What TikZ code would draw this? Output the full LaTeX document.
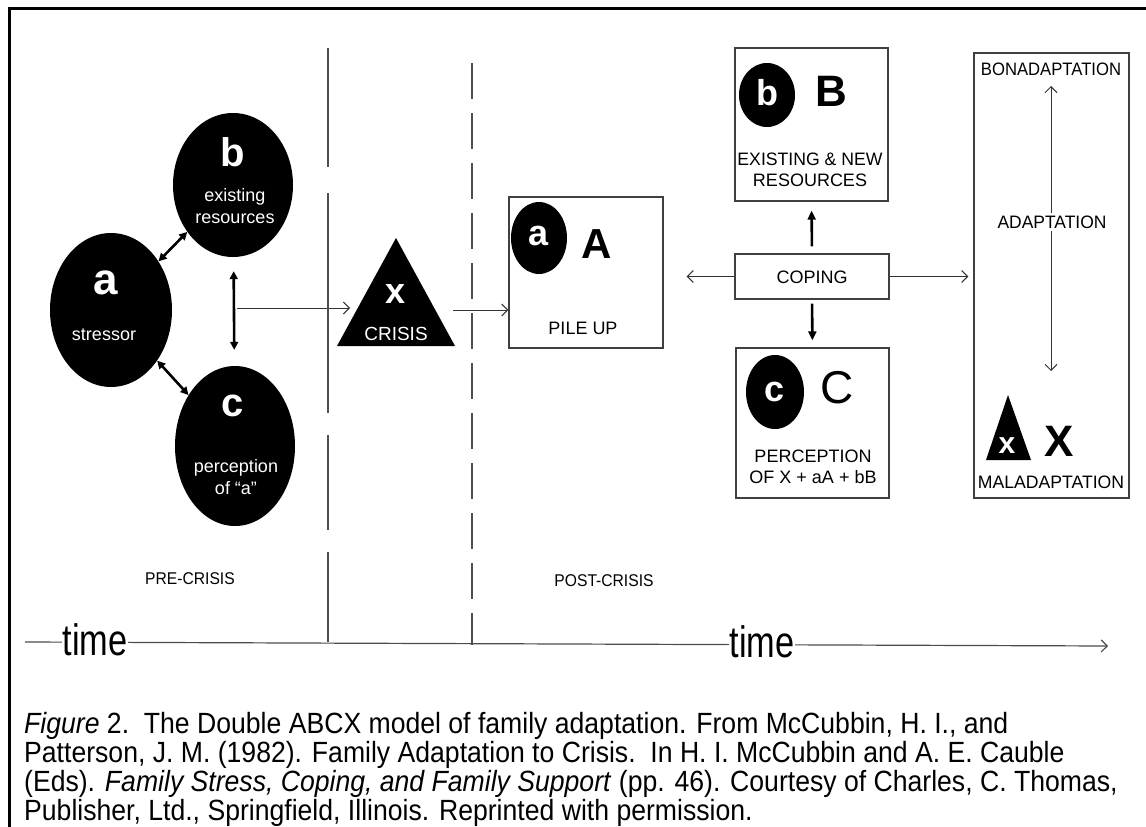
\documentclass[tikz,border=0pt]{standalone}
\usepackage{fontspec}
\setmainfont{Liberation Sans}
\usetikzlibrary{arrows.meta,shapes.geometric}
\newcommand\setfs[1]{\fontsize{#1}{#1}\selectfont}
\newcommand\tallcap[1]{\scalebox{1}[1.1]{#1}}
\begin{document}
\begin{tikzpicture}[x=1pt,y=-1pt,
  blob/.style={ellipse, fill=black, inner sep=0pt},
  bigw/.style={text=white, font=\bfseries\setfs{40}, inner sep=0pt},
  smallw/.style={text=white, font=\setfs{18}, inner sep=0pt, align=center},
  boxlbl/.style={font=\setfs{18}, inner sep=0pt},
  bigletter/.style={font=\setfs{40}, inner sep=0pt},
  panel/.style={draw=black!75, line width=1.3pt, inner sep=0pt},
  openarr/.style={draw=black!80, line width=1pt, -{Straight Barb[length=6pt,width=12pt]}},
  dblarr/.style={line width=2.6pt, {Triangle[length=8pt,width=8pt]}-{Triangle[length=8pt,width=8pt]}},
  fatarr/.style={line width=2.6pt, -{Triangle[length=9pt,width=8pt]}},
  axis/.style={draw=black!70, line width=1.2pt},
  captxt/.style={font=\setfs{26.6}, anchor=base west, inner sep=0pt},
]
\useasboundingbox (0,0) rectangle (1146,827);

% page frame
\draw[line width=3pt] (9.5,827) -- (9.5,8.5) -- (1146,8.5);

% ---------- pre-crisis: a, b, c ----------
\node[blob, minimum width=122pt, minimum height=154pt] (sa) at (111,310) {};
\node[blob, minimum width=120pt, minimum height=144pt] (sb) at (233,185) {};
\node[blob, minimum width=120pt, minimum height=160pt] (sc) at (235,446) {};

\node[bigw, font=\bfseries\setfs{44}] (sa-l) at (106,283) {a};
\node[smallw] (sa-t) at (104,335) {stressor};
\node[bigw] (sb-l) at (233,152) {b};
\node[smallw] (sb-t) at (235,206) {existing\\[4pt]resources};
\node[bigw] (sc-l) at (233,406) {c};
\node[smallw] (sc-t) at (236,477) {perception\\[4pt]of ``a''};

\draw[dblarr] (sa) -- (sb);
\draw[dblarr] (sa) -- (sc);
\draw[dblarr, shorten <=14pt, shorten >=16pt] (sb) -- (sc);

% ---------- crisis ----------
\coordinate (xtop) at (396,238);
\coordinate (xbl) at (337,346);
\coordinate (xbr) at (455,346);
\fill (xtop) -- (xbr) -- (xbl) -- cycle;
\node[bigw, font=\bfseries\setfs{36}] (x-l) at (396,294) {x};
\node[smallw, font=\setfs{19}] (x-t) at (396,334) {CRISIS};

\coordinate (jn) at (237,308);
\coordinate (crisisW) at (350,308);
\coordinate (crisisE) at (453,310);
\draw[openarr] (jn) -- (crisisW);

% ---------- time dividers ----------
\coordinate (d1top) at (328,48);
\coordinate (d1bot) at (328,642);
\coordinate (d2top) at (472,51);
\coordinate (d2bot) at (472,645);
\draw[axis, line width=1.1pt, dash pattern=on 119pt off 26pt on 220pt off 22pt on 95pt off 22pt on 200pt] (d1top) -- (d1bot);
\draw[axis, line width=1.1pt, dash pattern=on 36pt off 14pt, dash phase=38pt] (d2top) -- (d2bot);

% ---------- pile up ----------
\node[panel, minimum width=154pt, minimum height=151pt] (pile) at (586,272.5) {};
\node[blob, minimum width=56pt, minimum height=72pt] (pa) at (539,238) {};
\node[bigw, font=\bfseries\setfs{36}] (pa-l) at (539,236) {a};
\node[bigletter, font=\bfseries\setfs{42}] (pA) at (597,244) {A};
\node[boxlbl] (pile-t) at (583,328) {PILE UP};
\draw[openarr] (crisisE) -- (crisisE -| pile.west);

% ---------- resources ----------
\node[panel, minimum width=153pt, minimum height=153pt] (rbox) at (811.5,124.5) {};
\node[blob, minimum width=56pt, minimum height=64pt] (rb) at (767,95) {};
\node[bigw, font=\bfseries\setfs{36}] (rb-l) at (767,93) {b};
\node[bigletter, font=\bfseries\setfs{44}] (rB) at (831,91) {B};
\node[boxlbl, align=center] (rbox-t) at (810,170) {\scalebox{0.98}[1]{EXISTING \& NEW}\\[3pt]RESOURCES};

% ---------- coping ----------
\node[panel, minimum width=154pt, minimum height=45pt] (coping) at (812,276.5) {};
\node[boxlbl] (coping-t) at (812,277) {COPING};

% ---------- perception ----------
\node[panel, minimum width=153pt, minimum height=150pt] (pbox) at (812.5,423) {};
\node[blob, minimum width=58pt, minimum height=74pt] (pc) at (775,392) {};
\node[bigw, font=\bfseries\setfs{36}] (pc-l) at (775,392) {c};
\node[bigletter, font=\setfs{46}] (pC) at (837,388) {C};
\node[boxlbl, align=center] (pbox-t) at (813,467) {PERCEPTION\\[3pt]OF X + aA + bB};

% ---------- adaptation ----------
\node[panel, minimum width=155pt, minimum height=445pt] (abox) at (1051.5,275.5) {};
\node[boxlbl] (bon) at (1051,69) {\scalebox{0.926}[1]{BONADAPTATION}};
\node[boxlbl] (mal) at (1051,482) {\scalebox{0.98}[1]{MALADAPTATION}};
\coordinate (adtop) at (1051,86);
\coordinate (adbot) at (1051,371);
\draw[draw=black!80, line width=1pt, {Straight Barb[length=6pt,width=12pt]}-{Straight Barb[length=6pt,width=12pt]}] (adtop) -- (adbot);
\node[boxlbl, fill=white, inner sep=3pt] (adapt) at (1052,222) {\scalebox{0.97}[1]{ADAPTATION}};
\coordinate (mtop) at (1008,395);
\coordinate (mbl) at (986,460);
\coordinate (mbr) at (1031,460);
\fill (mtop) -- (mbr) -- (mbl) -- cycle;
\node[bigw, font=\bfseries\setfs{30}] (m-l) at (1007,446) {x};
\node[bigletter, font=\bfseries\setfs{44}] (mX) at (1059,441) {X};

% ---------- coping connectors ----------
\draw[fatarr, shorten <=7pt, shorten >=9pt] (coping.north) -- (rbox.south);
\draw[fatarr, shorten <=4pt, shorten >=7pt] (coping.south) -- (pbox.north);
\draw[openarr, shorten >=23pt] (coping.west) -- (coping.west -| pile.east);
\draw[openarr, shorten >=5pt] (coping.east) -- (coping.east -| abox.west);

% ---------- time axis ----------
\coordinate (t0) at (25,642);
\coordinate (t1) at (1108,646);
\draw[axis, -{Straight Barb[length=6pt,width=12pt]}] (t0) -- (t1);
\node[fill=white, inner xsep=1pt, inner ysep=0pt, font=\setfs{44}, anchor=base] (time1) at (95,655) {\scalebox{0.78}[1]{time}};
\node[fill=white, inner xsep=1pt, inner ysep=0pt, font=\setfs{44}, anchor=base] (time2) at (762,657) {\scalebox{0.78}[1]{time}};
\node[font=\setfs{17}, inner sep=0pt] (pre) at (190,579) {\scalebox{0.92}[1]{PRE-CRISIS}};
\node[font=\setfs{17}, inner sep=0pt] (post) at (604,581) {\scalebox{0.92}[1]{POST-CRISIS}};

% ---------- caption ----------
\node[captxt] (cap1) at (24,733) {\tallcap{\textit{Figure} 2.\ \ The Double ABCX model of family adaptation. From McCubbin, H. I., and}};
\node[captxt] (cap2) at (24,762) {\tallcap{Patterson, J. M. (1982). Family Adaptation to Crisis.\ \ In H. I. McCubbin and A. E. Cauble}};
\node[captxt] (cap3) at (24,791) {\tallcap{(Eds). \textit{Family Stress, Coping, and Family Support} (pp. 46). Courtesy of Charles, C. Thomas,}};
\node[captxt] (cap4) at (24,820) {\tallcap{Publisher, Ltd., Springfield, Illinois. Reprinted with permission.}};
\end{tikzpicture}
\end{document}
